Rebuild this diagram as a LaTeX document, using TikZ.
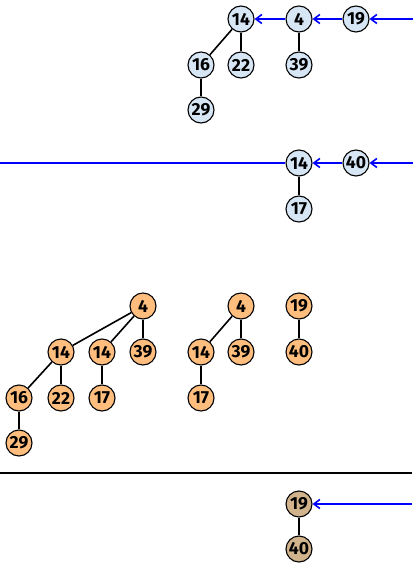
\documentclass[tikz,border=0pt]{standalone}
\usepackage{fontspec}
\setmainfont{Fira Sans}
\usetikzlibrary{arrows.meta}
\definecolor{lblue}{RGB}{214,230,245}
\definecolor{lorange}{RGB}{255,190,125}
\definecolor{ltan}{RGB}{210,180,140}
\tikzset{
  hn/.style={circle,draw=black,line width=1.1pt,minimum size=26pt,inner sep=0pt,font=\fontsize{17.5}{18}\selectfont\bfseries},
  bn/.style={hn,fill=lblue},
  on/.style={hn,fill=lorange},
  tn/.style={hn,fill=ltan},
  ed/.style={line width=1.6pt,black},
  ptr/.style={line width=1.6pt,blue,-{Straight Barb[length=6pt,width=9pt,line width=1.6pt]}},
  bl/.style={line width=1.6pt,blue}
}
\begin{document}
\begin{tikzpicture}[x=1pt,y=-1pt]
\useasboundingbox (0,0) rectangle (417,567);
% top
\node[bn] (a14) at (241,19) {14};
\node[bn] (a4) at (299,19) {4};
\node[bn] (a19) at (356,19) {19};
\node[bn] (a16) at (201,65) {16};
\node[bn] (a22) at (241,65) {22};
\node[bn] (a39) at (299,65) {39};
\node[bn] (a29) at (201,110) {29};
\coordinate (ar) at (413,19);
\draw[ed] (a14) -- (a16);
\draw[ed] (a14) -- (a22);
\draw[ed] (a16) -- (a29);
\draw[ed] (a4) -- (a39);
\draw[ptr] (ar) -- (a19);
\draw[ptr] (a19) -- (a4);
\draw[ptr] (a4) -- (a14);
% middle
\node[bn] (b14) at (299,163) {14};
\node[bn] (b40) at (356,163) {40};
\node[bn] (b17) at (299,209) {17};
\coordinate (bl0) at (0,163);
\coordinate (br) at (413,163);
\draw[ed] (b14) -- (b17);
\draw[bl] (bl0) -- (b14);
\draw[ptr] (br) -- (b40);
\draw[ptr] (b40) -- (b14);
% orange
\node[on] (c4) at (143,306) {4};
\node[on] (c14) at (61,352) {14};
\node[on] (c14b) at (102,352) {14};
\node[on] (c39) at (143,352) {39};
\node[on] (c16) at (19,398) {16};
\node[on] (c22) at (61,398) {22};
\node[on] (c17) at (102,398) {17};
\node[on] (c29) at (19,443) {29};
\draw[ed] (c4) -- (c14);
\draw[ed] (c4) -- (c14b);
\draw[ed] (c4) -- (c39);
\draw[ed] (c14) -- (c16);
\draw[ed] (c14) -- (c22);
\draw[ed] (c14b) -- (c17);
\draw[ed] (c16) -- (c29);
\node[on] (d4) at (241,306) {4};
\node[on] (d14) at (201,352) {14};
\node[on] (d39) at (241,352) {39};
\node[on] (d17) at (201,398) {17};
\draw[ed] (d4) -- (d14);
\draw[ed] (d4) -- (d39);
\draw[ed] (d14) -- (d17);
\node[on] (e19) at (299,306) {19};
\node[on] (e40) at (299,352) {40};
\draw[ed] (e19) -- (e40);
% bottom
\coordinate (s0) at (0,473);
\coordinate (s1) at (412,473);
\draw[ed] (s0) -- (s1);
\node[tn] (f19) at (299,504) {19};
\node[tn] (f40) at (299,549) {40};
\coordinate (fr) at (412,504);
\draw[ed] (f19) -- (f40);
\draw[ptr] (fr) -- (f19);
\end{tikzpicture}
\end{document}
